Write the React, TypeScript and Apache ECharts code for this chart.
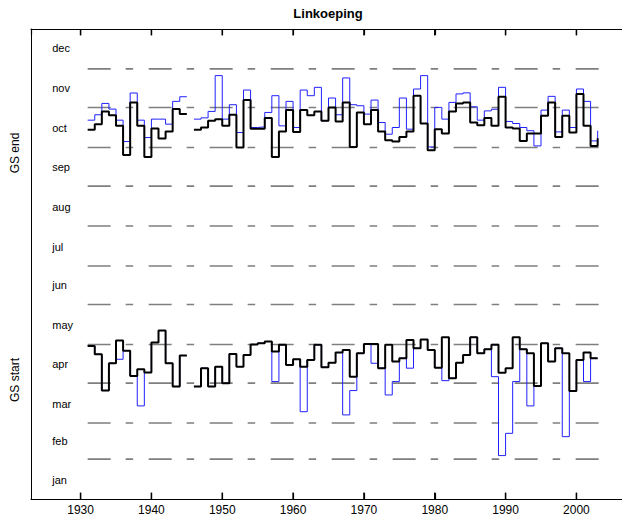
import React, { useEffect, useRef } from "react";
import * as echarts from "echarts";

const FONT = "'Liberation Sans', Arial, Helvetica, sans-serif";

const years: number[] = Array.from({ length: 73 }, (_, i) => 1931 + i);

// GS end (day of year), thin blue and thick black
const endBlue: (number | null)[] = [
  294.2, 298.4, 307.2, 302.8, 294.2, 277.6, 315.3, 294.2, 280.7, 295.0,
  295.0, 291.1, 308.8, 312.4, null, 295.0, 296.0, 301.0, 328.8, 295.0,
  306.2, 284.6, 317.6, 288.5, 289.0, 300.2, 313.2, 289.8, 308.8, 288.5,
  317.6, 313.2, 319.7, 293.7, 311.4, 298.4, 327.0, 306.2, 305.4, 298.9,
  309.8, 292.4, 283.3, 288.5, 311.4, 287.2, 318.4, 328.8, 273.4, 304.1,
  295.0, 308.0, 314.6, 315.4, 304.6, 294.2, 301.4, 302.7, 319.7, 293.2,
  291.6, 288.5, 286.0, 274.2, 302.0, 312.7, 285.1, 302.0, 288.5, 318.4,
  308.8, 278.1, 286.0,
];
const endBlack: (number | null)[] = [
  286.7, 291.1, 301.0, 298.1, 289.8, 267.2, 308.0, 289.8, 265.6, 287.7,
  279.9, 285.4, 302.8, 298.9, null, 286.7, 288.5, 293.7, 295.0, 289.8,
  298.4, 272.9, 309.8, 287.5, 287.5, 295.8, 265.6, 285.4, 302.0, 285.1,
  302.0, 298.1, 301.0, 293.7, 304.1, 293.2, 308.0, 273.4, 300.2, 291.1,
  302.0, 285.4, 278.6, 277.6, 281.2, 285.4, 313.2, 291.6, 270.8, 287.2,
  283.8, 301.0, 307.2, 308.0, 292.4, 290.3, 295.8, 289.8, 312.4, 288.5,
  287.7, 278.1, 283.8, 283.8, 297.6, 308.0, 281.2, 297.6, 284.6, 314.6,
  289.8, 274.2, 280.2,
];

// GS start (day of year)
const startBlue: (number | null)[] = [
  118.9, 112.4, 84.2, 105.4, 108.5, 115.2, 95.6, 72.3, 98.2, 121.5,
  130.8, 105.4, 87.3, 111.4, null, 87.3, 101.6, 87.3, 102.8, 89.9,
  112.7, 102.8, 111.9, 120.0, 121.0, 122.3, 91.2, 119.7, 104.1, 108.5,
  67.8, 108.0, 119.7, 102.3, 105.9, 113.7, 65.3, 84.2, 113.2, 120.4,
  105.4, 101.6, 80.8, 91.2, 109.3, 101.6, 117.1, 123.8, 115.8, 102.0,
  91.9, 93.8, 105.9, 111.9, 125.6, 113.2, 116.3, 95.0, 33.7, 51.0,
  91.2, 116.3, 72.3, 87.8, 121.0, 106.7, 117.1, 48.4, 83.9, 108.0,
  91.2, 109.3, 109.3,
];
const startBlack: (number | null)[] = [
  118.9, 112.4, 84.2, 105.4, 123.0, 115.2, 95.6, 100.8, 98.2, 121.5,
  130.8, 105.4, 87.3, 111.4, null, 87.3, 101.6, 87.3, 102.8, 89.9,
  112.7, 102.8, 111.9, 120.0, 121.0, 122.3, 114.5, 119.7, 104.1, 108.5,
  102.8, 108.0, 119.7, 102.3, 105.9, 113.7, 115.7, 95.0, 113.2, 120.4,
  120.4, 101.6, 119.7, 106.7, 109.3, 123.5, 117.1, 123.8, 115.8, 102.0,
  125.6, 93.8, 105.9, 111.9, 125.6, 113.2, 116.3, 119.7, 98.1, 101.6,
  125.6, 116.3, 113.2, 87.8, 121.0, 106.7, 117.1, 113.2, 83.9, 108.0,
  113.7, 109.3, 109.3,
];

const monthNames = ["jan", "feb", "mar", "apr", "may", "jun", "jul", "aug", "sep", "oct", "nov", "dec"];
const monthMidDays = [15, 45, 74, 105, 135, 166, 196, 227, 258, 288, 319, 350];
const monthLabelYear = 1926;
const monthBoundaryDays = [31, 59, 90, 120, 151, 181, 212, 243, 273, 304, 334];
const gridSpanYears = [1931, 2004];
const xTickYears = [1930, 1940, 1950, 1960, 1970, 1980, 1990, 2000];
const tickLengthDays = 5;
const xRange = [1923, 2007];
const yRange = [0, 365];

function stairs(xs: number[], vs: (number | null)[]) {
  const out: any[] = [];
  for (let i = 0; i < xs.length; i++) {
    const v = vs[i];
    if (v == null) {
      if (i > 0 && vs[i - 1] != null) out.push([xs[i], vs[i - 1]]);
      out.push([xs[i], null]);
    } else {
      out.push([xs[i], v]);
    }
  }
  return out;
}

export default function App() {
  const ref = useRef<HTMLDivElement>(null);
  useEffect(() => {
    if (!ref.current) return;
    const chart = echarts.init(ref.current, undefined, { renderer: "svg" });

    const gridSeries = monthBoundaryDays.map((d) => ({
      type: "line",
      data: [
        [gridSpanYears[0], d],
        [gridSpanYears[1], d],
      ],
      symbol: "none",
      silent: true,
      z: 1,
      lineStyle: { color: "#7f7f7f", width: 1.6, type: [23, 15, 7.5, 15.5], dashOffset: 0 },
    }));

    const tickSeries: any[] = [];
    xTickYears.forEach((yr) => {
      tickSeries.push({
        type: "line",
        data: [
          [yr, yRange[0]],
          [yr, yRange[0] + tickLengthDays],
        ],
        symbol: "none",
        silent: true,
        clip: false,
        z: 10,
        lineStyle: { color: "#000", width: 1.4 },
      });
      tickSeries.push({
        type: "line",
        data: [
          [yr, yRange[1]],
          [yr, yRange[1] - tickLengthDays],
        ],
        symbol: "none",
        silent: true,
        clip: false,
        z: 10,
        lineStyle: { color: "#000", width: 1.4 },
      });
    });

    const stepSeries = (data: any[], color: string, width: number, z: number) => ({
      type: "line",
      step: "end",
      data,
      symbol: "none",
      showSymbol: false,
      connectNulls: false,
      silent: true,
      z,
      lineStyle: { color, width },
      itemStyle: { color },
    });

    const xAxisBase = {
      type: "value",
      min: xRange[0],
      max: xRange[1],
      splitNumber: 8,
      splitLine: { show: false },
      axisLine: { show: true, onZero: false, lineStyle: { color: "#000", width: 1 } },
      axisTick: { show: true, inside: true, length: 6, lineStyle: { color: "#000", width: 1.2 } },
    };

    chart.setOption({
      animation: false,
      backgroundColor: "#fff",
      grid: { left: 31, top: 29, width: 595, height: 470, containLabel: false, outerBoundsMode: "none" },
      xAxis: [
        {
          ...xAxisBase,
          position: "bottom",
          axisLabel: {
            show: true,
            showMinLabel: false,
            showMaxLabel: false,
            formatter: (v: number) => String(v),
            color: "#000",
            fontSize: 12,
            fontFamily: FONT,
            margin: 5,
          },
        },
        {
          ...xAxisBase,
          position: "top",
          axisLabel: { show: false },
        },
      ],
      yAxis: {
        type: "value",
        min: yRange[0],
        max: yRange[1],
        splitLine: { show: false },
        axisLine: { show: true, onZero: false, lineStyle: { color: "#000", width: 1 } },
        axisTick: { show: false },
        axisLabel: { show: false },
      },
      graphic: [
        {
          type: "text",
          x: 328,
          y: 13,
          style: {
            text: "Linkoeping",
            fontSize: 13,
            fontWeight: "bold",
            fontFamily: FONT,
            fill: "#000",
            align: "center",
            verticalAlign: "middle",
          },
        },
        {
          type: "text",
          x: 15,
          y: 153,
          rotation: Math.PI / 2,
          style: {
            text: "GS end",
            fontSize: 12,
            fontFamily: FONT,
            fill: "#000",
            align: "center",
            verticalAlign: "middle",
          },
        },
        {
          type: "text",
          x: 15,
          y: 380,
          rotation: Math.PI / 2,
          style: {
            text: "GS start",
            fontSize: 12,
            fontFamily: FONT,
            fill: "#000",
            align: "center",
            verticalAlign: "middle",
          },
        },
      ],
      series: [
        ...gridSeries,
        stepSeries(stairs(years, endBlue), "#2020ff", 1, 2),
        stepSeries(stairs(years, startBlue), "#2020ff", 1, 2),
        stepSeries(stairs(years, endBlack), "#000000", 2, 3),
        stepSeries(stairs(years, startBlack), "#000000", 2, 3),
        ...tickSeries,
        {
          type: "scatter",
          symbolSize: 0,
          silent: true,
          z: 4,
          itemStyle: { color: "#000" },
          data: monthNames.map((n, i) => ({ name: n, value: [monthLabelYear, monthMidDays[i]] })),
          label: {
            show: true,
            position: "right",
            distance: 0,
            formatter: "{b}",
            color: "#000",
            opacity: 1,
            textBorderWidth: 0,
            fontSize: 11,
            fontFamily: FONT,
          },
        },
      ],
    });
    return () => chart.dispose();
  }, []);

  return (
    <div
      ref={ref}
      style={{ position: "fixed", left: 0, top: 0, width: 622, height: 522, background: "#fff" }}
    />
  );
}
